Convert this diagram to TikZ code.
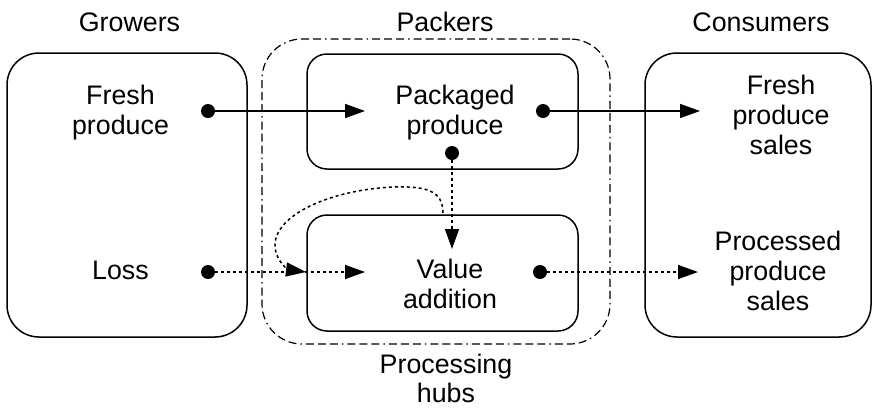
\documentclass[tikz,border=0pt]{standalone}
\usepackage{fontspec}
\setmainfont{Liberation Sans}
\usetikzlibrary{arrows.meta}
\begin{document}
\begin{tikzpicture}[x=1pt,y=-1pt,
  txt/.style={font=\fontsize{26.8}{30}\selectfont, align=center, inner sep=0pt},
  bigbox/.style={draw, line width=1.5pt, rounded corners=32pt, inner sep=0pt},
  smallbox/.style={draw, line width=1.5pt, rounded corners=20pt, inner sep=0pt},
  hubbox/.style={draw, line width=1.2pt, rounded corners=40pt, inner sep=0pt,
    dash pattern=on 8pt off 4pt on 8pt off 4pt on 8pt off 4pt on 1.5pt off 4pt},
  dot/.style={circle, fill=black, minimum size=14pt, inner sep=0pt},
  conn/.style={line width=1.5pt, -{Triangle[length=20pt,width=14pt]}},
  dconn/.style={conn, dash pattern=on 3pt off 3pt},
]
\useasboundingbox (0,0) rectangle (873,408);

% boxes
\node[bigbox, minimum width=240pt, minimum height=284pt] (growers) at (127,195) {};
\node[hubbox, minimum width=348pt, minimum height=305pt] (hub) at (436,191.5) {};
\node[smallbox, minimum width=271pt, minimum height=115pt] (pack) at (442.5,111.5) {};
\node[smallbox, minimum width=271pt, minimum height=116pt] (val) at (442.5,273) {};
\node[bigbox, minimum width=226pt, minimum height=284pt] (cons) at (758,195) {};

% titles
\node[txt] (tgrow) at (129.5,22) {Growers};
\node[txt] (tpack) at (445,22) {Packers};
\node[txt] (tcons) at (761,22) {Consumers};
\node[txt, font=\fontsize{26.8}{29}\selectfont] (thub) at (446,378.5) {Processing\\hubs};

% texts
\node[txt] (fresh) at (120.5,113) {Fresh\\produce};
\node[txt] (loss) at (120.5,270) {Loss};
\node[txt] (packt) at (455,113) {Packaged\\produce};
\node[txt] (valt) at (450,284.3) {Value\\addition};
\node[txt] (fsales) at (781,115.3) {Fresh\\produce\\sales};
\node[txt] (psales) at (778,270.5) {Processed\\produce\\sales};

% dots
\node[dot] (d1) at (208,111) {};
\node[dot] (d2) at (208,272) {};
\node[dot] (d3) at (543,111) {};
\node[dot] (d4) at (452,153) {};
\node[dot] (d5) at (540,272) {};

% arrow tip coordinates
\coordinate (a1) at (365,111);
\coordinate (a2) at (365,272);
\coordinate (a3) at (700,111);
\coordinate (a4) at (452,249);
\coordinate (a5) at (698,272);
\coordinate (cs) at (443,213);
\coordinate (ce) at (306,272);

% connectors
\draw[conn] (d1) -- (a1);
\draw[conn] (d3) -- (a3);
\draw[dconn] (d2) -- (a2);
\draw[dconn] (d4) -- (a4);
\draw[dconn] (d5) -- (a5);
\draw[dconn] (cs) .. controls (443,190) and (425,186) .. (393,187)
  .. controls (330,190) and (275,215) .. (275,245)
  .. controls (275,262) and (290,270) .. (ce);
\end{tikzpicture}
\end{document}
